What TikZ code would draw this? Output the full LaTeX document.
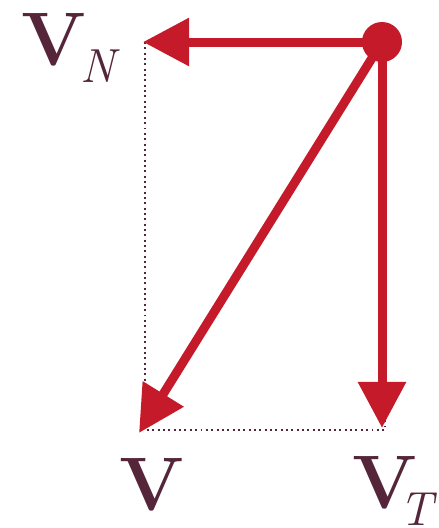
\documentclass[tikz,border=0pt]{standalone}
\usepackage{tikz}
\usetikzlibrary{positioning,arrows.meta,calc}
\usepackage{amsmath,amssymb}
\definecolor{vecred}{HTML}{C41A2A}
\definecolor{labelink}{HTML}{55263A}
\newcommand{\vecsub}[2]{\kern#1\raisebox{-0.23em}{\fontsize{34}{38}\selectfont\itshape\mdseries #2}}

\begin{document}
\begin{tikzpicture}[x=0.025cm, y=-0.025cm,
                    vec/.style={-{Triangle[length=1.15cm, width=1.15cm]}, line width=6.4pt, vecred},
                    guide/.style={line width=1.5pt, dash pattern=on 1.4pt off 2.4pt, labelink},
                    lbl/.style={anchor=base west, inner sep=0pt, text=labelink, font=\fontsize{54}{60}\selectfont\bfseries}]
    \useasboundingbox (0,0) rectangle (439,528);

    % Tips and corners
    \coordinate (vn) at (143,42);
    \coordinate (vt) at (382,428);
    \coordinate (v) at (139,433);
    \coordinate (cn) at (145,42);
    \coordinate (cv) at (145,430);
    \coordinate (ct) at (385,430);
    \coordinate (co) at (385,42);

    % Dotted rectangle
    \draw[guide] (cn) -- (cv) -- (ct) -- (co);

    % Origin point
    \node[circle, fill=vecred, minimum size=1cm, inner sep=0pt] (o) at (382,42) {};

    % Components and resultant
    \draw[vec] (o.center) -- (vn);
    \draw[vec] (o.center) -- (vt);
    \draw[vec] (o.center) -- (v);

    % Labels
    \node[lbl] (lvn) at (21,65) {V\vecsub{-4pt}{N}};
    \node[lbl] (lv) at (119,510) {V};
    \node[lbl] (lvt) at (352,508) {V\vecsub{-12pt}{T}};
\end{tikzpicture}
\end{document}
